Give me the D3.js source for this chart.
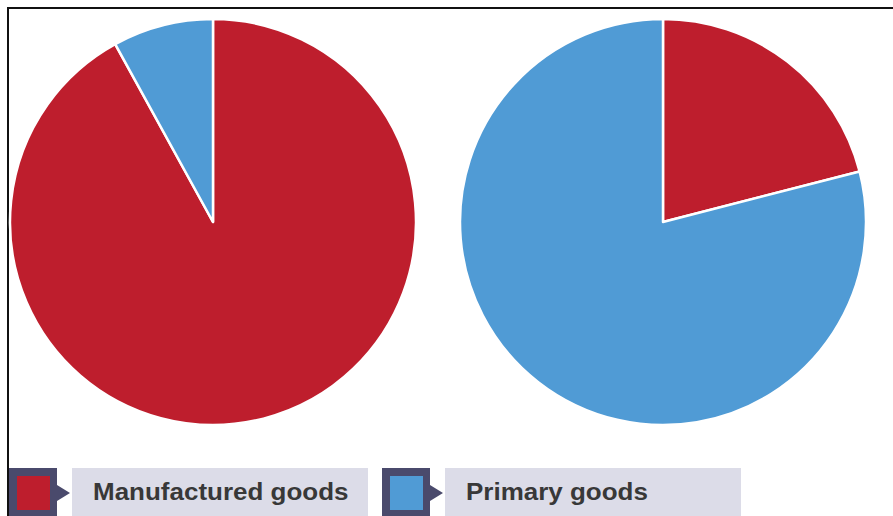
<!DOCTYPE html>
<html>
<head>
<meta charset="utf-8">
<script src="https://d3js.org/d3.v7.min.js"></script>
<style>
  body { margin: 0; background: #fff; }
  svg { display: block; }
</style>
</head>
<body>
<script>
// data (shares, %)
var categories = ["Manufactured goods", "Primary goods"];
var leftPie = [92, 8];
var rightPie = [21, 79];
var colors = ["#be1e2d", "#509bd5"];

var width = 893, height = 516;
var radius = 203;

var svg = d3.select("body").append("svg")
  .attr("width", width)
  .attr("height", height);

// frame
svg.append("rect")
  .attr("x", 8).attr("y", 8)
  .attr("width", 1000).attr("height", 700)
  .attr("fill", "none")
  .attr("stroke", "#111")
  .attr("stroke-width", 2);

var color = d3.scaleOrdinal().domain(categories).range(colors);

var pie = d3.pie().sort(null).value(function(d) { return d.v; });
var arc = d3.arc().innerRadius(0).outerRadius(radius);

function drawPie(values, cx, cy) {
  var data = categories.map(function(c, i) { return { name: c, v: values[i] }; });
  var g = svg.append("g").attr("transform", "translate(" + cx + "," + cy + ")");
  g.selectAll("path")
    .data(pie(data))
    .enter()
      .append("path")
      .attr("d", arc)
      .attr("fill", function(d) { return color(d.data.name); })
      .attr("stroke", "#fff")
      .attr("stroke-width", 2.5)
      .attr("stroke-linejoin", "round");
}

drawPie(leftPie, 213, 222);
drawPie(rightPie, 663, 222);

// legend
var legend = svg.selectAll(".legend")
  .data(categories)
  .enter()
    .append("g")
    .attr("class", "legend")
    .attr("transform", function(d, i) { return "translate(" + (9 + i * 373) + ",468)"; });

legend.append("rect")
  .attr("x", 63).attr("y", 0)
  .attr("width", 296).attr("height", 60)
  .attr("fill", "#dcdce8");

legend.append("rect")
  .attr("x", 0).attr("y", 0)
  .attr("width", 48).attr("height", 60)
  .attr("fill", "#4a4a6c");

legend.append("path")
  .attr("d", "M48,17 L61,25 L48,33 Z")
  .attr("fill", "#4a4a6c");

legend.append("rect")
  .attr("x", 8).attr("y", 8)
  .attr("width", 33).attr("height", 34)
  .attr("fill", function(d) { return color(d); });

// the original lettering is a little wider than Arial, so stretch it
legend.append("text")
  .attr("transform", "translate(84,32) scale(1.13,1)")
  .attr("font-family", "Liberation Sans, Arial, sans-serif")
  .attr("font-weight", "bold")
  .attr("font-size", 23)
  .attr("fill", "#383838")
  .text(function(d) { return d; });
</script>
</body>
</html>
